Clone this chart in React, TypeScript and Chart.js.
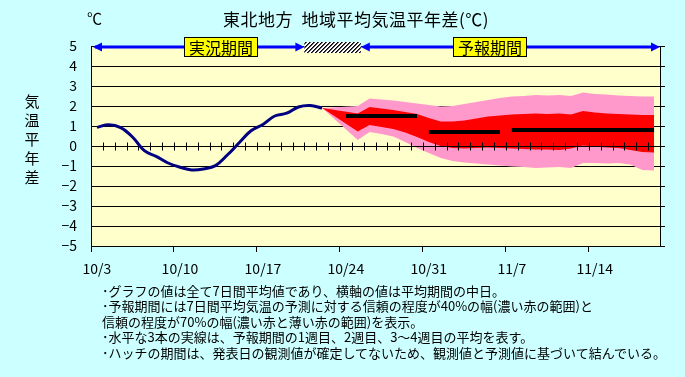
import React, { useEffect, useRef } from 'react';
import { Chart, registerables } from 'chart.js';
Chart.register(...registerables);

const categories = [
  '10/3', '10/4', '10/5', '10/6', '10/7', '10/8', '10/9',
  '10/10', '10/11', '10/12', '10/13', '10/14', '10/15', '10/16',
  '10/17', '10/18', '10/19', '10/20', '10/21', '10/22', '10/23',
  '10/24', '10/25', '10/26', '10/27', '10/28', '10/29', '10/30',
  '10/31', '11/1', '11/2', '11/3', '11/4', '11/5', '11/6',
  '11/7', '11/8', '11/9', '11/10', '11/11', '11/12', '11/13',
  '11/14', '11/15', '11/16', '11/17', '11/18', '11/19',
];
const tickLabelEvery = 7;
const yTicks = [-5, -4, -3, -2, -1, 0, 1, 2, 3, 4, 5];

// observed 7-day mean anomalies (10/3 .. 10/22)
const observed = [0.93, 1.06, 0.92, 0.45, -0.23, -0.52, -0.85, -1.06, -1.2, -1.15,
  -0.98, -0.45, 0.16, 0.76, 1.08, 1.5, 1.64, 1.95, 2.02, 1.9];

// forecast bands, from index 22 (10/25) to 47 (11/19)
const bandFirstIndex = 22;
const redUpper = [1.63, 1.95, 1.88, 1.8, 1.7, 1.6, 1.4, 1.22, 1.22, 1.28, 1.38, 1.48, 1.53,
  1.57, 1.6, 1.63, 1.6, 1.62, 1.58, 1.75, 1.68, 1.62, 1.6, 1.57, 1.55, 1.55];
const redLower = [0.72, 1.05, 0.95, 0.85, 0.68, 0.45, 0.2, 0.0, -0.1, -0.13, -0.1, -0.07, -0.1,
  -0.13, -0.15, -0.17, -0.17, -0.2, -0.12, 0.03, -0.03, -0.07, -0.1, -0.2, -0.3, -0.32];
const pinkUpper = [2.0, 2.38, 2.33, 2.27, 2.2, 2.12, 2.05, 1.97, 2.0, 2.1, 2.2, 2.3, 2.4,
  2.48, 2.5, 2.55, 2.52, 2.55, 2.5, 2.67, 2.6, 2.57, 2.52, 2.5, 2.47, 2.47];
const pinkLower = [0.3, 0.7, 0.6, 0.48, 0.2, -0.1, -0.35, -0.6, -0.75, -0.82, -0.88, -0.93, -0.98,
  -1.02, -1.05, -1.1, -1.08, -1.05, -1.1, -0.85, -0.85, -0.87, -0.85, -0.92, -1.2, -1.22];

// weekly means: week 1, week 2, weeks 3-4
const weekMeans = [1.5, 0.7, 0.8];
const weekStart = [21, 28, 35];
const weekEnd = [27, 34, 47];

// hatch period in category-boundary units
const hatchFrom = 18;
const hatchTo = 22.76;

const notes = [
  '･グラフの値は全て7日間平均値であり、横軸の値は平均期間の中日。',
  '･予報期間には7日間平均気温の予測に対する信頼の程度が40%の幅(濃い赤の範囲)と',
  '信頼の程度が70%の幅(濃い赤と薄い赤の範囲)を表示。',
  '･水平な3本の実線は、予報期間の1週目、2週目、3～4週目の平均を表す。',
  '･ハッチの期間は、発表日の観測値が確定してないため、観測値と予測値に基づいて結んでいる。',
];

const FONT = "'Noto Sans CJK JP', 'Noto Sans', sans-serif";

function band(vals: number[]) {
  const d: (number | null)[] = categories.map(() => null);
  d[observed.length - 1] = observed[observed.length - 1];
  vals.forEach((v, k) => { d[bandFirstIndex + k] = v; });
  return d;
}
function week(k: number) {
  const d: (number | null)[] = categories.map(() => null);
  for (let i = weekStart[k]; i <= weekEnd[k]; i++) d[i] = weekMeans[k];
  return d;
}

const decor = {
  id: 'decor',
  beforeDraw(chart: any) {
    const { ctx, chartArea: a } = chart;
    ctx.save();
    ctx.fillStyle = '#FFFFCC';
    ctx.fillRect(a.left, a.top, a.right - a.left, a.bottom - a.top);
    ctx.restore();
  },
  afterDatasetDraw(chart: any, args: any) {
    if (args.index !== 4) return;
    const { ctx, chartArea: a } = chart;
    const xs = chart.scales.x;
    const y0 = Math.round(chart.scales.y.getPixelForValue(0)) + 0.5;
    const step = xs.getPixelForValue(1) - xs.getPixelForValue(0);
    ctx.save();
    ctx.strokeStyle = '#000';
    ctx.lineWidth = 1;
    ctx.beginPath();
    ctx.moveTo(a.left, y0);
    ctx.lineTo(a.right, y0);
    for (let k = 1; k < categories.length; k++) {
      const x = Math.round(xs.getPixelForValue(k) - step / 2) + 0.5;
      ctx.moveTo(x, y0 - 4);
      ctx.lineTo(x, y0 + 4);
    }
    ctx.stroke();
    ctx.restore();
  },
  afterDraw(chart: any) {
    const { ctx, chartArea: a } = chart;
    const xs = chart.scales.x;
    const step = xs.getPixelForValue(1) - xs.getPixelForValue(0);
    const bx = (k: number) => xs.getPixelForValue(0) - step / 2 + k * step;
    const x1 = bx(hatchFrom);
    const x2 = bx(hatchTo);
    const y = a.top + 1;
    ctx.save();
    // hatch
    const pc = document.createElement('canvas');
    pc.width = 4; pc.height = 4;
    const p = pc.getContext('2d')!;
    p.fillStyle = '#ffffff';
    p.fillRect(0, 0, 4, 4);
    p.fillStyle = '#000000';
    for (let i = 0; i < 4; i++) { p.fillRect(3 - i, i, 1, 1); }
    p.fillStyle = '#555555';
    for (let i = 0; i < 4; i++) { p.fillRect((4 - i) % 4, i, 1, 1); }
    ctx.fillStyle = ctx.createPattern(pc, 'repeat');
    ctx.fillRect(x1, y - 5, x2 - x1, 11);
    // arrows
    ctx.strokeStyle = '#0000FF';
    ctx.fillStyle = '#0000FF';
    ctx.lineWidth = 3;
    const line = (xa: number, xb: number) => {
      ctx.beginPath(); ctx.moveTo(xa, y); ctx.lineTo(xb, y); ctx.stroke();
    };
    const head = (tip: number, dir: number) => {
      ctx.beginPath();
      ctx.moveTo(tip, y);
      ctx.lineTo(tip - dir * 9, y - 4.5);
      ctx.lineTo(tip - dir * 9, y + 4.5);
      ctx.closePath();
      ctx.fill();
    };
    line(a.left + 4, x1 - 4);
    head(a.left + 2, -1);
    head(x1, 1);
    line(x2 + 4, a.right - 4);
    head(x2, -1);
    head(a.right, 1);
    ctx.restore();
  },
};

export default function App() {
  const ref = useRef<HTMLCanvasElement>(null);
  useEffect(() => {
    const none = 'rgba(0,0,0,0)';
    const chart = new Chart(ref.current!, {
      type: 'line',
      data: {
        labels: categories,
        datasets: [
          { data: observed, borderColor: '#000080', borderWidth: 3, tension: 0.4, pointRadius: 0, fill: false },
          { data: week(0), borderColor: '#000', borderWidth: 4, pointRadius: 0, fill: false, spanGaps: false },
          { data: week(1), borderColor: '#000', borderWidth: 4, pointRadius: 0, fill: false, spanGaps: false },
          { data: week(2), borderColor: '#000', borderWidth: 4, pointRadius: 0, fill: false, spanGaps: false },
          { data: band(redUpper), borderColor: none, borderWidth: 1, pointRadius: 0, spanGaps: true, fill: '+1', backgroundColor: '#FF0000' },
          { data: band(redLower), borderColor: none, borderWidth: 1, pointRadius: 0, spanGaps: true, fill: false },
          { data: band(pinkUpper), borderColor: none, borderWidth: 1, pointRadius: 0, spanGaps: true, fill: '+1', backgroundColor: '#FF99CC' },
          { data: band(pinkLower), borderColor: none, borderWidth: 1, pointRadius: 0, spanGaps: true, fill: false },
        ],
      },
      options: {
        responsive: false,
        maintainAspectRatio: false,
        animation: false,
        devicePixelRatio: 1,
        layout: { padding: { top: 46, left: 0, right: 0, bottom: 0 } },
        plugins: { legend: { display: false }, tooltip: { enabled: false } },
        scales: {
          x: {
            type: 'category',
            offset: true,
            grid: {
              offset: true,
              drawOnChartArea: false,
              drawTicks: true,
              tickLength: 6,
              color: (c: any) => (c.index % tickLabelEvery === 0 ? '#000' : none),
            },
            border: { display: true, color: '#000' },
            ticks: {
              autoSkip: false,
              maxRotation: 0,
              minRotation: 0,
              padding: 8,
              color: '#000',
              font: { family: FONT, size: 14 },
              callback: (_v: any, i: number) => (i % tickLabelEvery === 0 ? categories[i] : ''),
            },
            afterFit: (s: any) => { s.height = 131; },
          },
          y: {
            min: yTicks[0],
            max: yTicks[yTicks.length - 1],
            afterBuildTicks: (s: any) => { s.ticks = yTicks.map((v) => ({ value: v })); },
            grid: { color: '#000', drawTicks: false },
            border: { display: true, color: '#000' },
            ticks: {
              padding: 14,
              color: '#000',
              font: { family: FONT, size: 14 },
              callback: (v: any) => (v < 0 ? '\u2212' + Math.abs(v) : String(v)),
            },
            afterFit: (s: any) => { s.width = 91; },
          },
          y2: {
            position: 'right',
            min: yTicks[0],
            max: yTicks[yTicks.length - 1],
            afterBuildTicks: (s: any) => { s.ticks = yTicks.map((v) => ({ value: v })); },
            grid: { drawOnChartArea: false, drawTicks: true, tickLength: 5, color: '#000' },
            border: { display: true, color: '#000' },
            ticks: { display: false },
            afterFit: (s: any) => { s.width = 25; },
          },
        },
      },
      plugins: [decor],
    } as any);
    return () => chart.destroy();
  }, []);

  const box: React.CSSProperties = {
    position: 'absolute', height: 18, width: 72, background: '#FFFF00', border: '1px solid #000',
    fontSize: 16, lineHeight: '18px', textAlign: 'center', color: '#000', fontFamily: FONT,
  };

  return (
    <div style={{ position: 'fixed', left: 0, top: 0, width: 685, height: 377, background: '#CCFFFF', overflow: 'hidden', fontFamily: FONT, color: '#000' }}>
      <canvas ref={ref} width={685} height={377} style={{ position: 'absolute', left: 0, top: 0, width: 685, height: 377 }} />
      <div style={{ position: 'absolute', left: 87, top: 9, fontSize: 15, lineHeight: '18px' }}>℃</div>
      <div style={{ position: 'absolute', left: 223, top: 8, fontSize: 17, lineHeight: '21px', whiteSpace: 'pre', letterSpacing: '0.5px' }}>{'東北地方  地域平均気温平年差(℃)'}</div>
      <div style={{ position: 'absolute', left: 24, top: 91, width: 16, fontSize: 15, lineHeight: '19px', textAlign: 'center' }}>
        {'気温平年差'.split('').map((c, i) => <div key={i}>{c}</div>)}
      </div>
      <div style={{ ...box, left: 184, top: 37 }}>実況期間</div>
      <div style={{ ...box, left: 453, top: 37 }}>予報期間</div>
      <div style={{ position: 'absolute', left: 102, top: 283, fontSize: 13, lineHeight: '15.4px', whiteSpace: 'nowrap' }}>
        {notes.map((n, i) => <div key={i}>{n}</div>)}
      </div>
    </div>
  );
}
